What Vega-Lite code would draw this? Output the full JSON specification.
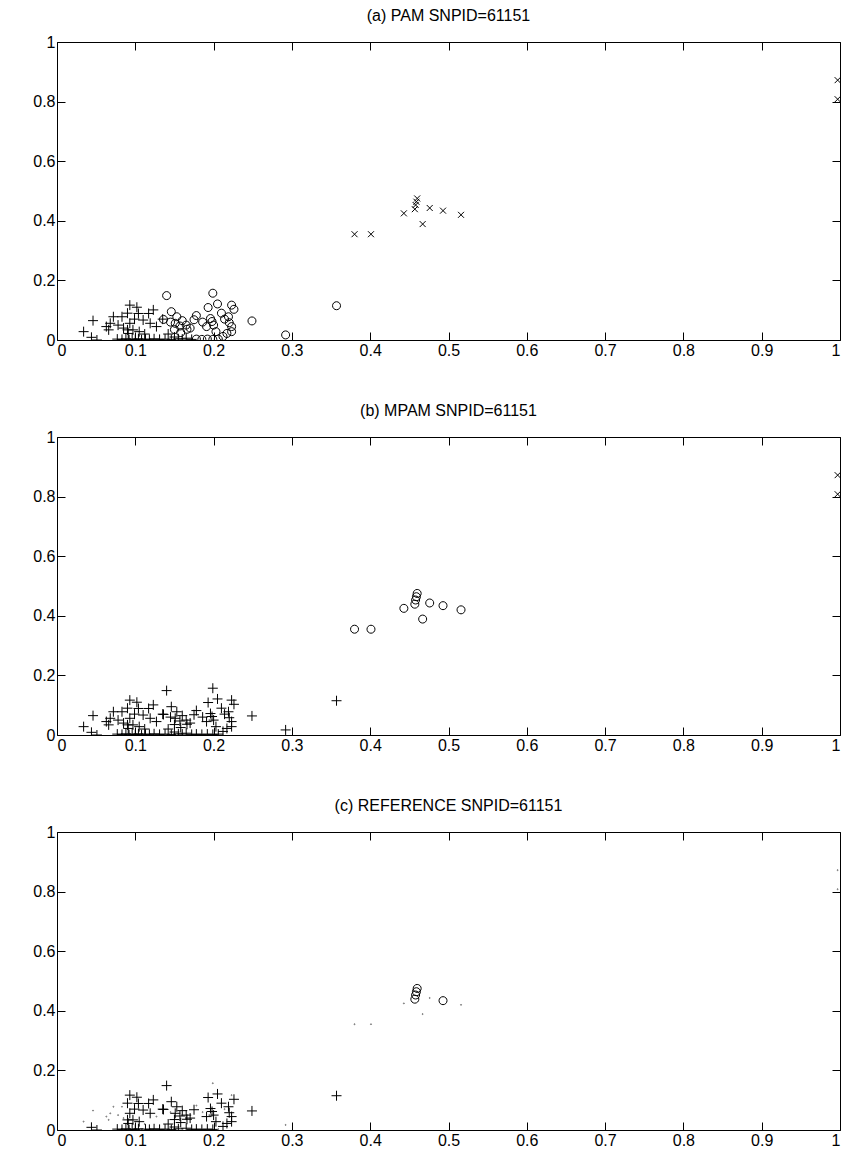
{
  "$schema": "https://vega.github.io/schema/vega-lite/v6.json",
  "background": "white",
  "padding": {"left": 32, "top": 8, "right": 4, "bottom": 5},
  "spacing": 45,
  "config": {
    "font": "Liberation Sans",
    "view": {"stroke": null},
    "axis": {
      "grid": false,
      "domainColor": "black",
      "domainWidth": 1,
      "tickColor": "black",
      "tickSize": -8,
      "labelFontSize": 16,
      "labelColor": "black",
      "labelFont": "Liberation Sans",
      "labelPadding": 10,
      "titleFontSize": 0
    },
    "title": {"fontSize": 16, "fontWeight": "normal", "font": "Liberation Sans", "color": "black", "offset": 10}
  },
  "data": {
    "values": [
      {"x":0.034,"y":0.028,"a":"plus","b":"plus","c":"dot"},
      {"x":0.046,"y":0.065,"a":"plus","b":"plus","c":"dot"},
      {"x":0.044,"y":0.009,"a":"plus","b":"plus","c":"plus"},
      {"x":0.051,"y":0.000,"a":"plus","b":"plus","c":"plus"},
      {"x":0.063,"y":0.045,"a":"plus","b":"plus","c":"dot"},
      {"x":0.068,"y":0.056,"a":"plus","b":"plus","c":"dot"},
      {"x":0.066,"y":0.034,"a":"plus","b":"plus","c":"dot"},
      {"x":0.072,"y":0.078,"a":"plus","b":"plus","c":"dot"},
      {"x":0.083,"y":0.078,"a":"plus","b":"plus","c":"dot"},
      {"x":0.078,"y":0.050,"a":"plus","b":"plus","c":"dot"},
      {"x":0.093,"y":0.117,"a":"plus","b":"plus","c":"plus"},
      {"x":0.102,"y":0.110,"a":"plus","b":"plus","c":"plus"},
      {"x":0.090,"y":0.090,"a":"plus","b":"plus","c":"plus"},
      {"x":0.104,"y":0.089,"a":"plus","b":"plus","c":"plus"},
      {"x":0.093,"y":0.056,"a":"plus","b":"plus","c":"plus"},
      {"x":0.110,"y":0.067,"a":"plus","b":"plus","c":"plus"},
      {"x":0.117,"y":0.089,"a":"plus","b":"plus","c":"plus"},
      {"x":0.123,"y":0.101,"a":"plus","b":"plus","c":"plus"},
      {"x":0.119,"y":0.056,"a":"plus","b":"plus","c":"plus"},
      {"x":0.127,"y":0.045,"a":"plus","b":"plus","c":"dot"},
      {"x":0.090,"y":0.034,"a":"plus","b":"plus","c":"plus"},
      {"x":0.097,"y":0.034,"a":"plus","b":"plus","c":"plus"},
      {"x":0.091,"y":0.022,"a":"plus","b":"plus","c":"plus"},
      {"x":0.105,"y":0.028,"a":"plus","b":"plus","c":"plus"},
      {"x":0.112,"y":0.020,"a":"plus","b":"plus","c":"dot"},
      {"x":0.099,"y":0.070,"a":"plus","b":"plus","c":"plus"},
      {"x":0.085,"y":0.040,"a":"plus","b":"plus","c":"dot"},
      {"x":0.135,"y":0.070,"a":"plus","b":"plus","c":"plus"},
      {"x":0.077,"y":0.003,"a":"plus","b":"plus","c":"plus"},
      {"x":0.083,"y":0.002,"a":"plus","b":"plus","c":"plus"},
      {"x":0.088,"y":0.004,"a":"plus","b":"plus","c":"plus"},
      {"x":0.092,"y":0.001,"a":"plus","b":"plus","c":"plus"},
      {"x":0.096,"y":0.003,"a":"plus","b":"plus","c":"plus"},
      {"x":0.100,"y":0.002,"a":"plus","b":"plus","c":"plus"},
      {"x":0.104,"y":0.004,"a":"plus","b":"plus","c":"plus"},
      {"x":0.108,"y":0.001,"a":"plus","b":"plus","c":"dot"},
      {"x":0.113,"y":0.003,"a":"plus","b":"plus","c":"plus"},
      {"x":0.118,"y":0.002,"a":"plus","b":"plus","c":"plus"},
      {"x":0.124,"y":0.004,"a":"plus","b":"plus","c":"plus"},
      {"x":0.131,"y":0.002,"a":"plus","b":"plus","c":"plus"},
      {"x":0.138,"y":0.003,"a":"plus","b":"plus","c":"plus"},
      {"x":0.146,"y":0.002,"a":"plus","b":"plus","c":"plus"},
      {"x":0.150,"y":0.010,"a":"plus","b":"plus","c":"plus"},
      {"x":0.155,"y":0.004,"a":"plus","b":"plus","c":"plus"},
      {"x":0.160,"y":0.003,"a":"plus","b":"plus","c":"dot"},
      {"x":0.165,"y":0.006,"a":"plus","b":"plus","c":"plus"},
      {"x":0.172,"y":0.002,"a":"plus","b":"plus","c":"plus"},
      {"x":0.142,"y":0.020,"a":"plus","b":"plus","c":"plus"},
      {"x":0.140,"y":0.149,"a":"circle","b":"plus","c":"plus"},
      {"x":0.199,"y":0.157,"a":"circle","b":"plus","c":"dot"},
      {"x":0.249,"y":0.064,"a":"circle","b":"plus","c":"plus"},
      {"x":0.193,"y":0.109,"a":"circle","b":"plus","c":"plus"},
      {"x":0.205,"y":0.121,"a":"circle","b":"plus","c":"plus"},
      {"x":0.223,"y":0.117,"a":"circle","b":"plus","c":"dot"},
      {"x":0.226,"y":0.103,"a":"circle","b":"plus","c":"plus"},
      {"x":0.146,"y":0.095,"a":"circle","b":"plus","c":"plus"},
      {"x":0.153,"y":0.078,"a":"circle","b":"plus","c":"plus"},
      {"x":0.178,"y":0.082,"a":"circle","b":"plus","c":"dot"},
      {"x":0.175,"y":0.068,"a":"circle","b":"plus","c":"plus"},
      {"x":0.198,"y":0.062,"a":"circle","b":"plus","c":"plus"},
      {"x":0.203,"y":0.028,"a":"circle","b":"plus","c":"plus"},
      {"x":0.219,"y":0.078,"a":"circle","b":"plus","c":"plus"},
      {"x":0.223,"y":0.045,"a":"circle","b":"plus","c":"plus"},
      {"x":0.223,"y":0.028,"a":"circle","b":"plus","c":"plus"},
      {"x":0.166,"y":0.036,"a":"circle","b":"plus","c":"plus"},
      {"x":0.136,"y":0.069,"a":"circle","b":"plus","c":"plus"},
      {"x":0.151,"y":0.056,"a":"circle","b":"plus","c":"plus"},
      {"x":0.157,"y":0.047,"a":"circle","b":"plus","c":"plus"},
      {"x":0.191,"y":0.045,"a":"circle","b":"plus","c":"plus"},
      {"x":0.160,"y":0.065,"a":"circle","b":"plus","c":"plus"},
      {"x":0.145,"y":0.060,"a":"circle","b":"plus","c":"dot"},
      {"x":0.165,"y":0.050,"a":"circle","b":"plus","c":"plus"},
      {"x":0.210,"y":0.090,"a":"circle","b":"plus","c":"plus"},
      {"x":0.214,"y":0.070,"a":"circle","b":"plus","c":"dot"},
      {"x":0.196,"y":0.072,"a":"circle","b":"plus","c":"plus"},
      {"x":0.186,"y":0.060,"a":"circle","b":"plus","c":"dot"},
      {"x":0.170,"y":0.040,"a":"circle","b":"plus","c":"plus"},
      {"x":0.158,"y":0.025,"a":"circle","b":"plus","c":"plus"},
      {"x":0.150,"y":0.035,"a":"circle","b":"plus","c":"plus"},
      {"x":0.178,"y":0.003,"a":"circle","b":"plus","c":"plus"},
      {"x":0.185,"y":0.002,"a":"circle","b":"plus","c":"plus"},
      {"x":0.192,"y":0.003,"a":"circle","b":"plus","c":"plus"},
      {"x":0.199,"y":0.002,"a":"circle","b":"plus","c":"plus"},
      {"x":0.206,"y":0.003,"a":"circle","b":"plus","c":"dot"},
      {"x":0.212,"y":0.012,"a":"circle","b":"plus","c":"plus"},
      {"x":0.217,"y":0.022,"a":"circle","b":"plus","c":"plus"},
      {"x":0.220,"y":0.058,"a":"circle","b":"plus","c":"plus"},
      {"x":0.200,"y":0.050,"a":"circle","b":"plus","c":"plus"},
      {"x":0.292,"y":0.017,"a":"circle","b":"plus","c":"dot"},
      {"x":0.357,"y":0.115,"a":"circle","b":"plus","c":"plus"},
      {"x":0.380,"y":0.355,"a":"x","b":"circle","c":"dot"},
      {"x":0.401,"y":0.355,"a":"x","b":"circle","c":"dot"},
      {"x":0.443,"y":0.425,"a":"x","b":"circle","c":"dot"},
      {"x":0.457,"y":0.439,"a":"x","b":"circle","c":"circle"},
      {"x":0.458,"y":0.453,"a":"x","b":"circle","c":"circle"},
      {"x":0.459,"y":0.464,"a":"x","b":"circle","c":"circle"},
      {"x":0.460,"y":0.475,"a":"x","b":"circle","c":"circle"},
      {"x":0.467,"y":0.389,"a":"x","b":"circle","c":"dot"},
      {"x":0.476,"y":0.443,"a":"x","b":"circle","c":"dot"},
      {"x":0.493,"y":0.434,"a":"x","b":"circle","c":"circle"},
      {"x":0.516,"y":0.420,"a":"x","b":"circle","c":"dot"},
      {"x":0.997,"y":0.872,"a":"x","b":"x","c":"dot"},
      {"x":0.997,"y":0.808,"a":"x","b":"x","c":"dot"}
    ]
  },
  "vconcat": [
    {
      "title": "(a) PAM SNPID=61151",
      "width": 783, "height": 298,
      "layer": [
        {
          "mark": {"type": "point", "filled": false, "strokeWidth": 1, "clip": true, "opacity": 1, "size": 100},
          "encoding": {
            "x": {"field": "x", "type": "quantitative", "scale": {"domain": [0, 1], "nice": false}, "axis": {"orient": "bottom", "values": [0,0.1,0.2,0.3,0.4,0.5,0.6,0.7,0.8,0.9,1], "format": "~g", "title": null}},
            "y": {"field": "y", "type": "quantitative", "scale": {"domain": [0, 1], "nice": false}, "axis": {"orient": "left", "values": [0,0.2,0.4,0.6,0.8,1], "format": "~g", "title": null}},
            "shape": {"field": "a", "type": "nominal", "scale": {"domain": ["plus","circle","x","dot"], "range": ["M-1,0H1M0,-1V1","M0.8,0A0.8,0.8,0,1,1,-0.8,0A0.8,0.8,0,1,1,0.8,0Z","M-0.6,-0.6L0.6,0.6M-0.6,0.6L0.6,-0.6","M0.1,0A0.1,0.1,0,1,1,-0.1,0A0.1,0.1,0,1,1,0.1,0Z"]}, "legend": null},
            "color": {"field": "a", "type": "nominal", "scale": {"domain": ["plus","circle","x","dot"], "range": ["black","black","black","#666"]}, "legend": null}
          }
        },
        {
          "mark": {"type": "point", "opacity": 0},
          "encoding": {
            "x": {"field": "x", "type": "quantitative", "scale": {"domain": [0, 1], "nice": false}, "axis": {"orient": "top", "values": [0,0.1,0.2,0.3,0.4,0.5,0.6,0.7,0.8,0.9,1], "labels": false, "title": null}},
            "y": {"field": "y", "type": "quantitative", "scale": {"domain": [0, 1], "nice": false}, "axis": {"orient": "right", "values": [0,0.2,0.4,0.6,0.8,1], "labels": false, "title": null}}
          }
        }
      ],
      "resolve": {"axis": {"x": "independent", "y": "independent"}}
    },
    {
      "title": "(b) MPAM SNPID=61151",
      "width": 783, "height": 298,
      "layer": [
        {
          "mark": {"type": "point", "filled": false, "strokeWidth": 1, "clip": true, "opacity": 1, "size": 100},
          "encoding": {
            "x": {"field": "x", "type": "quantitative", "scale": {"domain": [0, 1], "nice": false}, "axis": {"orient": "bottom", "values": [0,0.1,0.2,0.3,0.4,0.5,0.6,0.7,0.8,0.9,1], "format": "~g", "title": null}},
            "y": {"field": "y", "type": "quantitative", "scale": {"domain": [0, 1], "nice": false}, "axis": {"orient": "left", "values": [0,0.2,0.4,0.6,0.8,1], "format": "~g", "title": null}},
            "shape": {"field": "b", "type": "nominal", "scale": {"domain": ["plus","circle","x","dot"], "range": ["M-1,0H1M0,-1V1","M0.8,0A0.8,0.8,0,1,1,-0.8,0A0.8,0.8,0,1,1,0.8,0Z","M-0.6,-0.6L0.6,0.6M-0.6,0.6L0.6,-0.6","M0.1,0A0.1,0.1,0,1,1,-0.1,0A0.1,0.1,0,1,1,0.1,0Z"]}, "legend": null},
            "color": {"field": "b", "type": "nominal", "scale": {"domain": ["plus","circle","x","dot"], "range": ["black","black","black","#666"]}, "legend": null}
          }
        },
        {
          "mark": {"type": "point", "opacity": 0},
          "encoding": {
            "x": {"field": "x", "type": "quantitative", "scale": {"domain": [0, 1], "nice": false}, "axis": {"orient": "top", "values": [0,0.1,0.2,0.3,0.4,0.5,0.6,0.7,0.8,0.9,1], "labels": false, "title": null}},
            "y": {"field": "y", "type": "quantitative", "scale": {"domain": [0, 1], "nice": false}, "axis": {"orient": "right", "values": [0,0.2,0.4,0.6,0.8,1], "labels": false, "title": null}}
          }
        }
      ],
      "resolve": {"axis": {"x": "independent", "y": "independent"}}
    },
    {
      "title": "(c) REFERENCE SNPID=61151",
      "width": 783, "height": 298,
      "layer": [
        {
          "mark": {"type": "point", "filled": false, "strokeWidth": 1, "clip": true, "opacity": 1, "size": 100},
          "encoding": {
            "x": {"field": "x", "type": "quantitative", "scale": {"domain": [0, 1], "nice": false}, "axis": {"orient": "bottom", "values": [0,0.1,0.2,0.3,0.4,0.5,0.6,0.7,0.8,0.9,1], "format": "~g", "title": null}},
            "y": {"field": "y", "type": "quantitative", "scale": {"domain": [0, 1], "nice": false}, "axis": {"orient": "left", "values": [0,0.2,0.4,0.6,0.8,1], "format": "~g", "title": null}},
            "shape": {"field": "c", "type": "nominal", "scale": {"domain": ["plus","circle","x","dot"], "range": ["M-1,0H1M0,-1V1","M0.8,0A0.8,0.8,0,1,1,-0.8,0A0.8,0.8,0,1,1,0.8,0Z","M-0.6,-0.6L0.6,0.6M-0.6,0.6L0.6,-0.6","M0.1,0A0.1,0.1,0,1,1,-0.1,0A0.1,0.1,0,1,1,0.1,0Z"]}, "legend": null},
            "color": {"field": "c", "type": "nominal", "scale": {"domain": ["plus","circle","x","dot"], "range": ["black","black","black","#666"]}, "legend": null}
          }
        },
        {
          "mark": {"type": "point", "opacity": 0},
          "encoding": {
            "x": {"field": "x", "type": "quantitative", "scale": {"domain": [0, 1], "nice": false}, "axis": {"orient": "top", "values": [0,0.1,0.2,0.3,0.4,0.5,0.6,0.7,0.8,0.9,1], "labels": false, "title": null}},
            "y": {"field": "y", "type": "quantitative", "scale": {"domain": [0, 1], "nice": false}, "axis": {"orient": "right", "values": [0,0.2,0.4,0.6,0.8,1], "labels": false, "title": null}}
          }
        }
      ],
      "resolve": {"axis": {"x": "independent", "y": "independent"}}
    }
  ]
}
